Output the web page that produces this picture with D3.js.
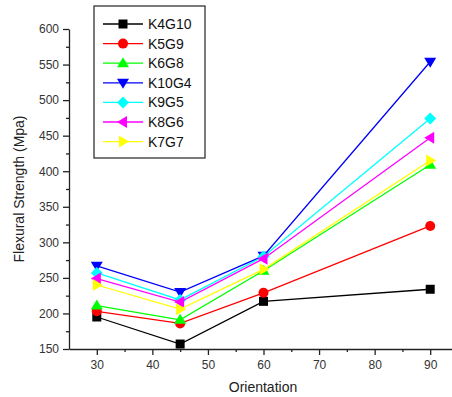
<!DOCTYPE html>
<html>
<head>
<meta charset="utf-8">
<script src="https://cdn.jsdelivr.net/npm/d3@7"></script>
<style>
  body { margin: 0; background: #fff; }
  svg { display: block; font-family: "Liberation Sans", Arial, sans-serif; }
</style>
</head>
<body>
<svg id="chart" width="452" height="397"></svg>
<script>
// orientation angles
const orientations = [30, 45, 60, 90]

const seriesNames = ["K4G10", "K5G9", "K6G8", "K10G4", "K9G5", "K8G6", "K7G7"]
const seriesColors = ["#000000", "#ff0000", "#00ff00", "#0000ff", "#00ffff", "#ff00ff", "#ffff00"]
const seriesSymbols = ["square", "circle", "triUp", "triDown", "diamond", "triLeft", "triRight"]

const k4g10 = [195, 157, 217, 234]
const k5g9 = [203, 186, 229, 323]
const k6g8 = [211, 191, 260, 409]
const k10g4 = [267, 230, 281, 554]
const k9g5 = [257, 219, 280, 474]
const k8g6 = [249, 216, 277, 447]
const k7g7 = [240, 206, 262, 415]
const seriesValues = [k4g10, k5g9, k6g8, k10g4, k9g5, k8g6, k7g7]

const xTicks = [30, 40, 50, 60, 70, 80, 90]
const yTicks = [150, 200, 250, 300, 350, 400, 450, 500, 550, 600]

const svg = d3.select("#chart")
const x = d3.scaleLinear().domain([25, 95]).range([69, 458])
const y = d3.scaleLinear().domain([150, 600]).range([349, 29])

function symbolPath(kind, cx, cy) {
  const r = 5
  if (kind === "square") return `M${cx-4.5},${cy-4.5}h9v9h-9Z`
  if (kind === "diamond") return `M${cx},${cy-r-1}L${cx+r+1},${cy}L${cx},${cy+r+1}L${cx-r-1},${cy}Z`
  if (kind === "triUp") return `M${cx},${cy-r-1}L${cx+r+1},${cy+r-1}L${cx-r-1},${cy+r-1}Z`
  if (kind === "triDown") return `M${cx},${cy+r+1}L${cx+r+1},${cy-r+1}L${cx-r-1},${cy-r+1}Z`
  if (kind === "triLeft") return `M${cx-r-1},${cy}L${cx+r-1},${cy-r-1}L${cx+r-1},${cy+r+1}Z`
  return `M${cx+r+1},${cy}L${cx-r+1},${cy-r-1}L${cx-r+1},${cy+r+1}Z`
}

function drawMarker(g, kind, cx, cy, color) {
  if (kind === "circle") {
    g.append("circle").attr("cx", cx).attr("cy", cy).attr("r", 5).attr("fill", color)
  } else {
    g.append("path").attr("d", symbolPath(kind, cx, cy)).attr("fill", color)
  }
}

// axes
svg.append("g").attr("transform", "translate(0,349)")
  .call(d3.axisBottom(x).tickValues(xTicks).tickSize(6).tickSizeOuter(0).tickPadding(5))
const xMinor = svg.append("g").attr("transform", "translate(0,349)")
  .call(d3.axisBottom(x).tickValues(d3.range(35, 95, 10)).tickSize(3).tickFormat(""))
xMinor.select(".domain").remove()

svg.append("g").attr("transform", "translate(69,0)")
  .call(d3.axisLeft(y).tickValues(yTicks).tickSize(6).tickSizeOuter(0).tickPadding(4))
const yMinor = svg.append("g").attr("transform", "translate(69,0)")
  .call(d3.axisLeft(y).tickValues(d3.range(175, 600, 50)).tickSize(3).tickFormat(""))
yMinor.select(".domain").remove()

svg.selectAll(".tick text").attr("font-size", 12).attr("fill", "#333")
  .attr("font-family", "'Liberation Sans', Arial, sans-serif")
svg.selectAll(".domain, .tick line").attr("stroke", "#222").attr("stroke-width", 1.3)

svg.append("text").attr("x", 263).attr("y", 392).attr("text-anchor", "middle")
  .attr("font-size", 14).attr("fill", "#222").text("Orientation")
svg.append("text").attr("transform", "translate(24,189) rotate(-90)").attr("text-anchor", "middle")
  .attr("font-size", 14).attr("fill", "#222").text("Flexural Strength (Mpa)")

// series
const line = d3.line().x((d, i) => x(orientations[i])).y(d => y(d))
seriesValues.forEach((vals, s) => {
  const g = svg.append("g")
  g.append("path").attr("d", line(vals)).attr("fill", "none")
    .attr("stroke", seriesColors[s]).attr("stroke-width", 1.3)
  vals.forEach((v, i) => drawMarker(g, seriesSymbols[s], x(orientations[i]), y(v), seriesColors[s]))
})

// legend
const legend = svg.append("g")
legend.append("rect").attr("x", 94).attr("y", 6).attr("width", 111).attr("height", 152)
  .attr("fill", "#fff").attr("stroke", "#222").attr("stroke-width", 1.2)
seriesNames.forEach((name, s) => {
  const ly = 24 + s * 19.6
  legend.append("line").attr("x1", 103).attr("x2", 143).attr("y1", ly).attr("y2", ly)
    .attr("stroke", seriesColors[s]).attr("stroke-width", 1.3)
  drawMarker(legend, seriesSymbols[s], 123, ly, seriesColors[s])
  legend.append("text").attr("x", 148).attr("y", ly + 5).attr("font-size", 14)
    .attr("fill", "#111").text(name)
})
</script>
</body>
</html>
